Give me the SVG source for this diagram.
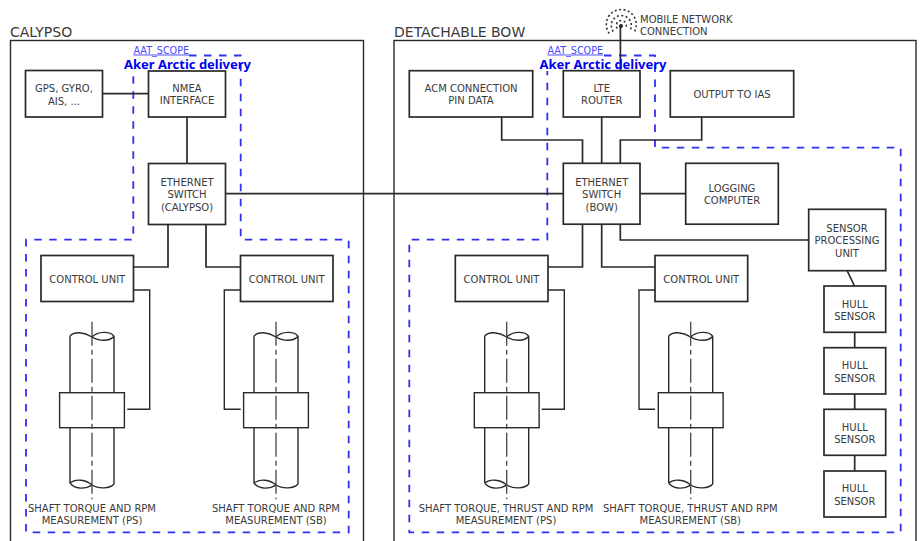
<svg xmlns="http://www.w3.org/2000/svg" width="920" height="541" viewBox="0 0 920 541">
<style>
text{font-family:"DejaVu Sans",Verdana,sans-serif;font-size:10px;fill:#3a3a3a;text-anchor:middle}
.title{font-size:14px;text-anchor:start}
.left{text-anchor:start}
.box{fill:#fff;stroke:#2a2a2a;stroke-width:1.7}
.frame{fill:none;stroke:#2a2a2a;stroke-width:1.4}
.scope{fill:none;stroke:#3030f0;stroke-width:1.8;stroke-dasharray:7.5 7.5}
.scopelabel{font-size:9.6px;fill:#4a4aff;text-anchor:start;text-decoration:underline}
.aker{font-family:"Noto Sans",sans-serif;font-weight:700;font-size:13px;fill:#0000ee;text-anchor:start}
.conn{fill:none;stroke:#2a2a2a;stroke-width:1.7}
.thin{fill:none;stroke:#2a2a2a;stroke-width:1.4}
.center{fill:none;stroke:#444;stroke-width:1.3;stroke-dasharray:24 4 5 4}
.dots{fill:none;stroke:#333;stroke-width:1.6;stroke-dasharray:2 2.4}
</style>
<defs>
<g id="shaft">
<path class="thin" d="M-22,336V392.7M22,336V392.7M-22,427.7V483.3M22,427.7V484"/>
<path class="thin" d="M-22,336C-18,331-8,332 0,337C6,341 18,342 22,336M0,337C6,331 18,331 22,336"/>
<path class="thin" d="M-22,483.3C-16,478-6,480 0,485C6,489 18,489 22,484M-22,483.3C-16,490-6,489 0,485"/>
<rect class="box" style="stroke-width:1.4" x="-32.4" y="392.7" width="64.8" height="35"/>
<path class="center" d="M0,321.7V499.3"/>
</g>
</defs>
<g id="frames">
<rect class="frame" x="10.5" y="40.5" width="353" height="510"/>
<rect class="frame" x="394" y="40.5" width="522" height="510"/>
<text class="title" x="10" y="37">CALYPSO</text>
<text class="title" x="394" y="37">DETACHABLE BOW</text>
</g>
<g id="scopes">
<path class="scope" d="M189,55.5H240.7V239.7H348.7V532.3H26V239.7H133.3V71"/>
<path class="scope" d="M604,55.5H655V147.7H900.7V532.3H409.3V239.7H547.3V71"/>
<text class="scopelabel" x="133.5" y="53.5">AAT_SCOPE</text>
<text class="scopelabel" x="547.5" y="53.5">AAT_SCOPE</text>
</g>
<g id="connectors">
<path class="conn" d="M102.5,93.7H148.5M187,117V163.5M225.5,193.7H563.3M168,224.5V267H133.5M206,224.5V267H240.5"/>
<path class="thin" d="M133.5,290H149.7V409.3H127.3M240.7,290H224.3V409.3H240.7"/>
<path class="conn" d="M501.7,117V140H582.5V163.5M601.7,117V163.5M701.7,117V140H620.3V163.5M640,193.7H685.7M582.5,224V267H548M601.7,224V267H655M620.3,224V240H808.7M620.4,70.5V26"/>
<path class="thin" d="M548,290H564.3V409.3H541.7M655,290H639V409.3H655"/>
<path class="conn" d="M847.3,271L854.5,286M854.7,332.3V347.7M854.7,394V409.3M854.7,455.3V471"/>
</g>
<g id="gps"><rect class="box" x="25.5" y="70.5" width="77" height="46.5"/><text x="64" y="92">GPS, GYRO,</text><text x="64" y="104.5">AIS, ...</text></g>
<g id="nmea"><rect class="box" x="148.5" y="71" width="77" height="46"/><text x="187" y="92">NMEA</text><text x="187" y="104">INTERFACE</text></g>
<g id="switch-calypso"><rect class="box" x="148.5" y="163.5" width="77" height="61"/><text x="187" y="185.5">ETHERNET</text><text x="187" y="198">SWITCH</text><text x="187" y="210.5">(CALYPSO)</text></g>
<g id="cu-ps"><rect class="box" x="41" y="255.5" width="92.5" height="46"/><text x="87.3" y="282.5">CONTROL UNIT</text></g>
<g id="cu-sb"><rect class="box" x="240.5" y="255.5" width="92.5" height="46"/><text x="286.7" y="282.5">CONTROL UNIT</text></g>
<g id="shaft-ps"><use href="#shaft" x="92"/><text x="92" y="511.5">SHAFT TORQUE AND RPM</text><text x="92" y="524">MEASUREMENT (PS)</text></g>
<g id="shaft-sb"><use href="#shaft" x="276"/><text x="276" y="511.5">SHAFT TORQUE AND RPM</text><text x="276" y="524">MEASUREMENT (SB)</text></g>
<g id="mobile"><path class="dots" d="M617.3,28.5A5,5 0 1 1 625.3,28.5M613.3,31.5A10,10 0 1 1 629.3,31.5M609.3,33.5A15,15 0 1 1 633.3,33.5"/><circle cx="621" cy="26" r="2" fill="#222"/><text class="left" x="640" y="22.5">MOBILE NETWORK</text><text class="left" x="640" y="35">CONNECTION</text></g>
<g id="acm"><rect class="box" x="409.3" y="70.7" width="123.4" height="46.3"/><text x="471" y="92">ACM CONNECTION</text><text x="471" y="104">PIN DATA</text></g>
<g id="lte"><rect class="box" x="563.3" y="70.7" width="76.7" height="46.3"/><text x="601.7" y="92">LTE</text><text x="601.7" y="104">ROUTER</text></g>
<g id="ias"><rect class="box" x="670.3" y="70.7" width="123.4" height="46.3"/><text x="732" y="98">OUTPUT TO IAS</text></g>
<g id="switch-bow"><rect class="box" x="563.3" y="163.3" width="76.7" height="60.9"/><text x="601.7" y="185.5">ETHERNET</text><text x="601.7" y="198">SWITCH</text><text x="601.7" y="210.5">(BOW)</text></g>
<g id="logging"><rect class="box" x="685.7" y="163.3" width="92.6" height="60.9"/><text x="732" y="192">LOGGING</text><text x="732" y="204">COMPUTER</text></g>
<g id="spu"><rect class="box" x="808.7" y="209.3" width="77" height="61.4"/><text x="847" y="232">SENSOR</text><text x="847" y="244">PROCESSING</text><text x="847" y="256.5">UNIT</text></g>
<g id="cu-bow-ps"><rect class="box" x="455.3" y="255.5" width="92.7" height="46"/><text x="501.5" y="282.5">CONTROL UNIT</text></g>
<g id="cu-bow-sb"><rect class="box" x="655" y="255.5" width="92.7" height="46"/><text x="701.3" y="282.5">CONTROL UNIT</text></g>
<g id="shaft-bow-ps"><use href="#shaft" x="506.7"/><text x="506" y="511.5">SHAFT TORQUE, THRUST AND RPM</text><text x="506" y="524">MEASUREMENT (PS)</text></g>
<g id="shaft-bow-sb"><use href="#shaft" x="690.7"/><text x="690.3" y="511.5">SHAFT TORQUE, THRUST AND RPM</text><text x="690.3" y="524">MEASUREMENT (SB)</text></g>
<g id="hull-1"><rect class="box" x="824" y="286" width="61.7" height="46.3"/><text x="854.8" y="307.5">HULL</text><text x="854.8" y="320">SENSOR</text></g>
<g id="hull-2"><rect class="box" x="824" y="347.7" width="61.7" height="46.3"/><text x="854.8" y="369">HULL</text><text x="854.8" y="381.5">SENSOR</text></g>
<g id="hull-3"><rect class="box" x="824" y="409.3" width="61.7" height="46"/><text x="854.8" y="430.5">HULL</text><text x="854.8" y="443">SENSOR</text></g>
<g id="hull-4"><rect class="box" x="824" y="471" width="61.7" height="46"/><text x="854.8" y="492">HULL</text><text x="854.8" y="504.5">SENSOR</text></g>
<g id="labels">
<text class="aker" x="124" y="69">Aker Arctic delivery</text>
<text class="aker" x="539.5" y="68.5">Aker Arctic delivery</text>
</g>
</svg>
